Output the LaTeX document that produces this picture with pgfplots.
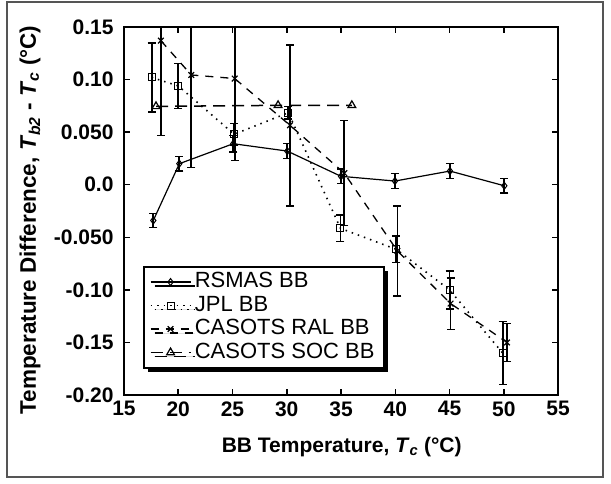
\documentclass[border=0pt]{standalone}
\usepackage{fontspec}
\setmainfont{Liberation Sans}
\usepackage{pgfplots}
\pgfplotsset{compat=1.18}
\usetikzlibrary{shadows}

\definecolor{framegray}{HTML}{555555}

% temperature, difference, error
\pgfplotstableread{
x     y       e
17.7  -0.034  0.0067
20.1   0.020  0.007
25.07  0.039  0.008
30.05  0.032  0.0072
35.0   0.008  0.007
39.97  0.0035 0.007
45.04  0.013  0.007
50.05 -0.001  0.007
}\rsmas
\pgfplotstableread{
x     y       e
17.55  0.102  0.033
20.0   0.094  0.0215
25.15  0.048  0.010
30.15  0.0685 0.006
34.95 -0.0415 0.0125
40.1  -0.0615 0.0125
45.0  -0.100  0.018
49.9  -0.160  0.030
}\jpl
\pgfplotstableread{
x     y       e
18.4   0.137  0.090
21.2   0.1044 0.088
25.2   0.101  0.078
30.3   0.0565 0.0765
35.3   0.011  0.050
40.2  -0.063  0.043
45.1  -0.113  0.0245
50.3  -0.150  0.018
}\ral
\pgfplotstableread{
x     y
17.95  0.0745
29.2   0.0755
36.0   0.0755
}\soc

\begin{document}
\begin{tikzpicture}
\begin{axis}[
  scale only axis, width=434pt, height=368pt,
  xmin=15, xmax=55, ymin=-0.2, ymax=0.15,
  xtick={15,20,25,30,35,40,45,50,55},
  ytick={-0.2,-0.15,-0.1,-0.05,0,0.05,0.1,0.15},
  yticklabels={-0.20,-0.15,-0.10,-0.050,0.0,0.050,0.10,0.15},
  /pgf/number format/assume math mode=true,
  tick align=inside, major tick length=6pt,
  tick style={black, line width=1.5pt},
  axis line style={line width=2pt},
  ticklabel style={font=\fontsize{21}{24}\selectfont\bfseries},
  xticklabel style={yshift=-3pt},
  yticklabel style={xshift=-7pt},
  xlabel style={font=\fontsize{21}{24}\selectfont\bfseries},
  ylabel style={font=\fontsize{22.5}{26}\selectfont\bfseries},
  xlabel={BB Temperature, \textit{T}\textsubscript{\textit{c}} (°C)},
  ylabel={Temperature Difference, \textit{T}\textsubscript{\textit{b2}} - \textit{T}\textsubscript{\textit{c}} (°C)},
  xlabel style={at={(rel axis cs:0.5016,-0.155)}, anchor=base},
  ylabel style={at={(rel axis cs:-0.2166,0.4755)}, anchor=center},
  legend image code/.code={\draw[mark repeat=2,mark phase=2] plot coordinates {(0pt,0pt) (20pt,0pt) (40pt,0pt)};},
  legend style={at={(0.0438,0.3505)}, anchor=north west,
    draw=black, line width=1.5pt, fill=white,
    font=\fontsize{22}{25}\selectfont,
    inner xsep=6pt, inner ysep=3.5pt, row sep=0pt, column sep=0pt,
    nodes={inner xsep=3.5pt, inner ysep=2pt, text height=15.5pt, text depth=4pt},
    cells={anchor=west},
    drop shadow={shadow xshift=4pt, shadow yshift=-4pt, fill=black, opacity=1}},
]
\addplot[black, solid, line width=1.2pt, mark=diamond, mark size=3.5pt,
  mark options={solid, fill=white, line width=1pt},
  error bars/.cd, y dir=both, y explicit,
  error bar style={solid, line width=1.8pt},
  error mark options={rotate=90, mark size=4pt, line width=1.5pt}]
  table[x=x, y=y, y error=e] {\rsmas};
\addlegendentry{RSMAS BB}
\addplot[black, dash pattern=on 1.5pt off 5pt, line width=1.6pt, mark=square, mark size=3.5pt,
  mark options={solid, fill=white, line width=1pt},
  error bars/.cd, y dir=both, y explicit,
  error bar style={solid, line width=1.8pt},
  error mark options={rotate=90, mark size=4pt, line width=1.5pt}]
  table[x=x, y=y, y error=e] {\jpl};
\addlegendentry{JPL BB}
\addplot[black, dash pattern=on 8pt off 7pt, line width=1.3pt, mark=x, mark size=4pt,
  mark options={solid, line width=1.2pt},
  error bars/.cd, y dir=both, y explicit,
  error bar style={solid, line width=1.8pt},
  error mark options={rotate=90, mark size=4pt, line width=1.5pt}]
  table[x=x, y=y, y error=e] {\ral};
\addlegendentry{CASOTS RAL BB}
\addplot[black, dash pattern=on 12pt off 7pt, line width=1.5pt, mark=triangle, mark size=4.5pt,
  mark options={solid, fill=white, line width=1.2pt}]
  table[x=x, y=y] {\soc};
\addlegendentry{CASOTS SOC BB}

\coordinate (bb1) at (rel axis cs:-0.2857,-0.2391);
\coordinate (bb2) at (rel axis cs:1.1221,1.0734);
\coordinate (fr1) at (rel axis cs:-0.2696,-0.2228);
\coordinate (fr2) at (rel axis cs:1.1037,1.0679);
\end{axis}
\draw[framegray, line width=2pt] (fr1) rectangle (fr2);
\pgfresetboundingbox
\path[use as bounding box] (bb1) rectangle (bb2);
\end{tikzpicture}
\end{document}
